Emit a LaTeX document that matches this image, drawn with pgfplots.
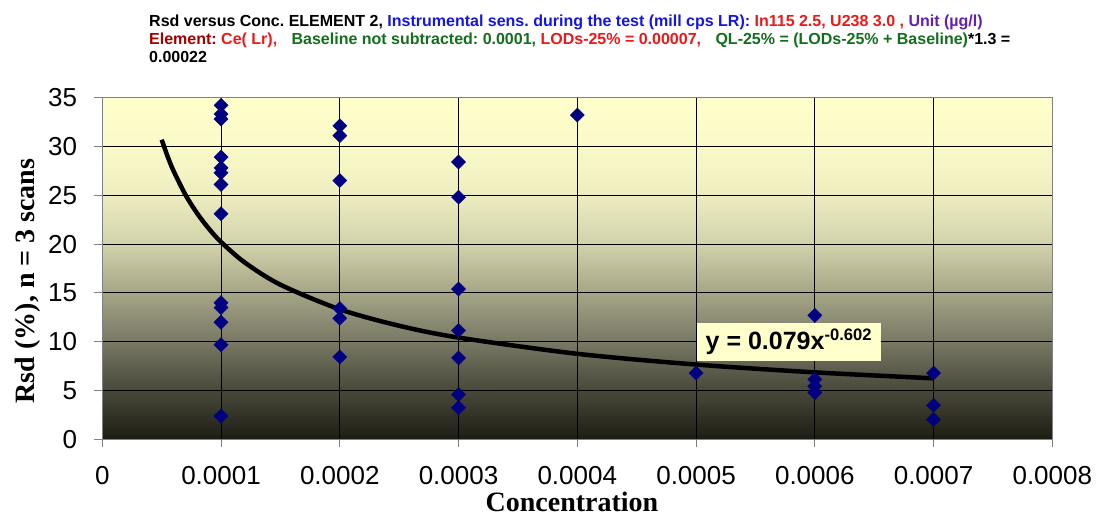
\documentclass[border=0pt]{standalone}
\usepackage{pgfplots}
\pgfplotsset{compat=1.18}
\usepackage{fontspec}
\setmainfont{Liberation Sans}
\newfontfamily\seriffont{Liberation Serif}
\frenchspacing

% plot-area fill: pale yellow at the top, almost black at the bottom
\definecolor{s35}{RGB}{255,255,204}
\definecolor{s30}{RGB}{250,250,200}
\definecolor{s25}{RGB}{237,237,192}
\definecolor{s20}{RGB}{210,210,170}
\definecolor{s15}{RGB}{165,165,135}
\definecolor{s10}{RGB}{120,120,100}
\definecolor{s05}{RGB}{72,72,58}
\definecolor{s00}{RGB}{28,28,20}
\pgfdeclareverticalshading{plotbg}{100bp}{%
  color(0bp)=(s00); color(25bp)=(s00); color(32.14bp)=(s05);
  color(39.29bp)=(s10); color(46.43bp)=(s15); color(53.57bp)=(s20);
  color(60.71bp)=(s25); color(67.86bp)=(s30); color(75bp)=(s35);
  color(100bp)=(s35)}

\definecolor{marknavy}{RGB}{0,0,128}
\definecolor{tblue}{RGB}{20,20,230}
\definecolor{tred}{RGB}{235,25,25}
\definecolor{tdarkred}{RGB}{160,0,0}
\definecolor{tgreen}{RGB}{20,110,30}
\definecolor{tpurple}{RGB}{100,30,180}
\definecolor{eqfill}{RGB}{255,255,204}

\begin{document}
\begin{tikzpicture}
\useasboundingbox (-102.3pt,-79.5pt) rectangle (994.7pt,439.5pt);

% heading, three lines
\begin{scope}[every node/.style={anchor=base west, inner sep=0pt,
    font=\fontsize{16}{18}\selectfont\bfseries}]
\node at (46.7pt,412.8pt) {Rsd versus Conc. ELEMENT 2, \textcolor{tblue}{Instrumental sens. during the test (mill cps LR):} \textcolor{tred}{In115 2.5, U238 3.0 ,} \textcolor{tpurple}{Unit (µg/l)}};
\node at (46.7pt,395pt) {\textcolor{tdarkred}{Element:} \textcolor{tred}{Ce( Lr),}\hspace{0.9em}\textcolor{tgreen}{Baseline not subtracted: 0.0001,} \textcolor{tred}{LODs-25\% = 0.00007,}\hspace{0.9em}\textcolor{tgreen}{QL-25\% = (LODs-25\% + Baseline)}*1.3 =};
\node at (46.7pt,377.2pt) {0.00022};
\end{scope}

\begin{axis}[
  at={(0pt,0pt)}, anchor=south west,
  scale only axis, width=950pt, height=342pt,
  xmin=0, xmax=0.0008, ymin=0, ymax=35,
  xtick={0,0.0001,0.0002,0.0003,0.0004,0.0005,0.0006,0.0007,0.0008},
  xticklabels={0,0.0001,0.0002,0.0003,0.0004,0.0005,0.0006,0.0007,0.0008},
  scaled x ticks=false,
  ytick={0,5,...,35},
  /pgf/number format/assume math mode=true,
  tick pos=left, tick align=outside, major tick length=8pt,
  tick style={gray, line width=1pt},
  axis line style={gray, line width=1.5pt},
  grid=major, major grid style={black, line width=1pt},
  axis background/.style={shading=plotbg},
  ticklabel style={font=\fontsize{26}{26}\selectfont},
  xticklabel style={anchor=north, inner sep=0pt, yshift=-19pt},
  yticklabel style={anchor=east, inner sep=0pt, xshift=-17pt},
  xlabel={Concentration},
  ylabel={Rsd (\%), n = 3 scans},
  label style={font=\seriffont\bfseries\fontsize{28}{30}\selectfont, inner sep=0pt},
  xlabel style={at={(axis description cs:0.4944,-0.183)}, anchor=center},
  ylabel style={at={(axis description cs:-0.0782,0.4635)}, anchor=center, rotate=0},
]
% measured Rsd values
\addplot[only marks, mark=square*, mark size=5pt,
  mark options={rotate=45, fill=marknavy, draw=marknavy}] coordinates {
  (0.0001,34.2) (0.0001,33.3) (0.0001,32.8) (0.0001,28.9) (0.0001,27.8)
  (0.0001,27.3) (0.0001,26.1) (0.0001,23.1) (0.0001,14.0) (0.0001,13.5)
  (0.0001,12.0) (0.0001,9.7) (0.0001,2.4)
  (0.0002,32.1) (0.0002,31.1) (0.0002,26.5) (0.0002,13.4) (0.0002,12.4)
  (0.0002,8.45)
  (0.0003,28.4) (0.0003,24.8) (0.0003,15.4) (0.0003,11.15) (0.0003,8.35)
  (0.0003,4.6) (0.0003,3.25)
  (0.0004,33.2)
  (0.0005,6.8)
  (0.0006,12.7) (0.0006,6.15) (0.0006,5.45) (0.0006,4.8)
  (0.0007,6.8) (0.0007,3.5) (0.0007,2.05)
};
% power trend line y = 0.079 x^-0.602, tabulated
\addplot[black, line width=4.5pt, smooth, no marks] coordinates {
  (0.00005,30.68) (0.000055,28.97) (0.00006,27.49) (0.00007,25.05)
  (0.00008,23.12) (0.00009,21.54) (0.0001,20.21) (0.00012,18.11)
  (0.00015,15.84) (0.0002,13.32) (0.00025,11.64) (0.0003,10.43)
  (0.0004,8.77) (0.0005,7.67) (0.0006,6.87) (0.0007,6.26)
};
\node[fill=eqfill, minimum width=184pt, minimum height=38pt, inner sep=0pt,
  font=\fontsize{25}{25}\selectfont\bfseries]
  at (axis cs:0.000578,9.98)
  {y = 0.079x\raisebox{9.5pt}{\fontsize{16.6}{16.6}\selectfont -0.602}};
\end{axis}
\end{tikzpicture}
\end{document}
